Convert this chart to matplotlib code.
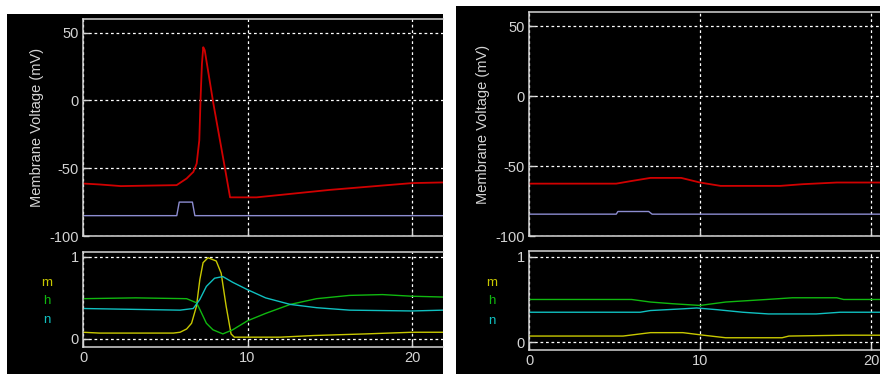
import numpy as np
import matplotlib
matplotlib.use("Agg")
import matplotlib.pyplot as plt
from matplotlib.patches import Rectangle

plt.rcParams['font.family'] = ['Liberation Sans', 'DejaVu Sans']
plt.rcParams['axes.unicode_minus'] = False

# ---- data (time in ms) ----
# left window: stimulus above threshold -> spike
tV_a = [0, 1, 2.3, 5.69, 6.3, 6.71, 6.91, 7.07, 7.15, 7.23, 7.31, 7.4, 7.92, 8.57, 8.94, 10.55, 15, 20, 21.9]
V_a = [-61.3, -62, -63.2, -62.5, -57.6, -52.7, -46.6, -29.4, 2.4, 27, 39.2, 37, -2, -46, -71.5, -71.5, -66, -61, -60.5]
tI_a = [0, 5.7, 5.85, 6.65, 6.8, 21.9]
I_a = [-85, -85, -75, -75, -85, -85]

tm_a = [0, 1, 5.5, 5.9, 6.3, 6.6, 6.9, 7.1, 7.3, 7.6, 8.1, 8.4, 8.7, 9.0, 9.2, 12, 14, 17.2, 20, 21.9]
m_a = [0.08, 0.07, 0.07, 0.08, 0.12, 0.19, 0.40, 0.72, 0.93, 0.99, 0.95, 0.80, 0.40, 0.06, 0.02, 0.02, 0.04, 0.06, 0.08, 0.08]
th_a = [0, 3.2, 6.3, 6.9, 7.1, 7.5, 7.9, 8.5, 9.1, 10, 11.1, 12.6, 14.2, 16.2, 18.2, 20, 21.9]
h_a = [0.49, 0.50, 0.49, 0.44, 0.36, 0.19, 0.11, 0.06, 0.11, 0.22, 0.31, 0.42, 0.49, 0.53, 0.54, 0.52, 0.51]
tn_a = [0, 5.9, 6.7, 7.1, 7.5, 8.0, 8.5, 9.1, 10, 11.1, 12.6, 14.2, 16.2, 20, 21.9]
n_a = [0.37, 0.35, 0.37, 0.48, 0.64, 0.74, 0.76, 0.69, 0.60, 0.50, 0.42, 0.38, 0.35, 0.34, 0.35]

# right window: small stimulus -> no spike
tV_b = [0, 5.1, 6.0, 7.1, 8.9, 10, 11.2, 14.7, 16, 18, 20.5]
V_b = [-62.6, -62.6, -60.7, -58.5, -58.5, -61.8, -64.2, -64.2, -63, -61.8, -61.8]
tI_b = [0, 5.1, 5.2, 7.0, 7.2, 20.5]
I_b = [-84.4, -84.4, -82.5, -82.5, -84.4, -84.4]

tm_b = [0, 5.5, 7.1, 9, 10.2, 11.5, 14.8, 15.2, 18.5, 20.5]
m_b = [0.07, 0.07, 0.11, 0.11, 0.08, 0.05, 0.05, 0.07, 0.08, 0.08]
th_b = [0, 6, 7.1, 8.4, 10, 11.5, 13.9, 15.4, 18, 18.4, 20.5]
h_b = [0.50, 0.50, 0.47, 0.45, 0.43, 0.47, 0.50, 0.52, 0.52, 0.50, 0.50]
tn_b = [0, 6.5, 7.1, 9, 9.8, 11, 12.5, 14, 16.8, 18.2, 20.5]
n_b = [0.35, 0.35, 0.37, 0.39, 0.40, 0.38, 0.35, 0.33, 0.33, 0.35, 0.35]

gate_names = ['m', 'h', 'n']

W, H = 880, 374
FG = '#d4d4d4'
C_V, C_I = '#d00000', '#8c8cd0'
C_GATE = ['#c8c800', '#10b810', '#10c0c0']


def px_axes(fig, x0, y0, x1, y1):
    # pixel box (top-left origin) -> figure axes
    return fig.add_axes([x0 / W, 1 - y1 / H, (x1 - x0) / W, (y1 - y0) / H])


def style(ax, xmax, yticks, ylim, xlabels):
    ax.set_facecolor('black')
    ax.set_xlim(0, xmax)
    ax.set_ylim(*ylim)
    ax.set_xticks([0, 10, 20])
    ax.set_yticks(yticks)
    ax.set_yticklabels([str(v) for v in yticks])
    if not xlabels:
        ax.set_xticklabels([])
    for s in ['left', 'top', 'bottom']:
        ax.spines[s].set_color(FG)
        ax.spines[s].set_linewidth(1.1)
    ax.spines['right'].set_visible(False)
    ax.tick_params(direction='in', length=4, width=1, colors=FG,
                   labelcolor=FG, labelsize=10.5, pad=3)
    ax.grid(True, color='white', linestyle=(0, (2.2, 2.2)), linewidth=0.9)


fig = plt.figure(figsize=(W / 100, H / 100), dpi=100)
fig.patch.set_facecolor('white')

panels = [
    dict(bg=(7, 14, 443, 374), top=(83, 19, 443, 236), bot=(83, 252, 443, 347),
         xmax=(443 - 83) / 16.45, glim=(-0.1, 1.06), lab_x=47, lab_y=[283, 301, 320],
         V=(tV_a, V_a), I=(tI_a, I_a), G=[(tm_a, m_a), (th_a, h_a), (tn_a, n_a)]),
    dict(bg=(456, 6, 880, 374), top=(529, 12, 880, 236), bot=(529, 251, 880, 350),
         xmax=(880 - 529) / 17.1, glim=(-0.094, 1.07), lab_x=492, lab_y=[283, 301, 321],
         V=(tV_b, V_b), I=(tI_b, I_b), G=[(tm_b, m_b), (th_b, h_b), (tn_b, n_b)]),
]

for p in panels:
    x0, y0, x1, y1 = p['bg']
    fig.patches.append(Rectangle((x0 / W, 1 - y1 / H), (x1 - x0) / W, (y1 - y0) / H,
                                 transform=fig.transFigure, facecolor='black',
                                 edgecolor='none', zorder=-5))

    ax = px_axes(fig, *p['top'])
    style(ax, p['xmax'], [-100, -50, 0, 50], (-100, 60), False)
    ax.plot(*p['V'], color=C_V, lw=1.3)
    ax.plot(*p['I'], color=C_I, lw=1.0)
    ax.set_ylabel('Membrane Voltage (mV)', color=FG, fontsize=10.5, labelpad=4)

    bx = px_axes(fig, *p['bot'])
    style(bx, p['xmax'], [0, 1], p['glim'], True)
    for (t, g), c in zip(p['G'], C_GATE):
        bx.plot(t, g, color=c, lw=1.0)
    for name, c, yy in zip(gate_names, C_GATE, p['lab_y']):
        fig.text(p['lab_x'] / W, 1 - yy / H, name, color=c, fontsize=9.5,
                 ha='center', va='center')

fig.savefig('out.png', dpi=100, facecolor=fig.get_facecolor())
